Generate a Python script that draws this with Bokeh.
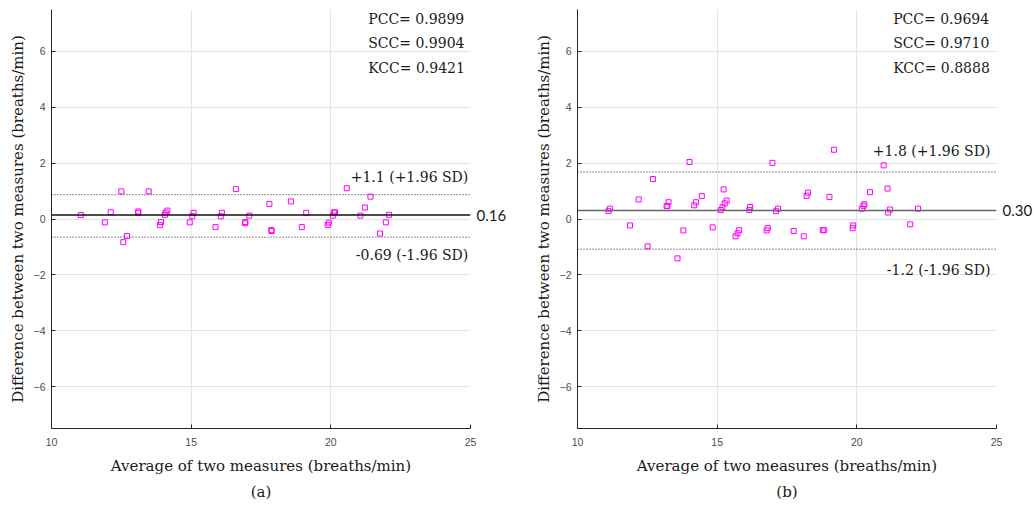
from bokeh.plotting import figure
from bokeh.layouts import row
from bokeh.models import Span, Label, Title, FixedTicker, Range1d, LinearAxis
from bokeh.embed import file_html
from bokeh.resources import INLINE

# ---------------- data ----------------
a_avg = [11.05, 11.91, 12.12, 12.50, 12.57, 12.70, 13.10, 13.11, 13.48, 13.88,
         13.92, 14.06, 14.09, 14.15, 14.95, 15.04, 15.09, 15.87, 16.06, 16.10,
         16.60, 16.93, 16.94, 17.08, 17.80, 17.87, 17.88, 18.57, 18.96, 19.12,
         19.89, 19.93, 20.07, 20.11, 20.15, 20.57, 21.06, 21.22, 21.42, 21.76,
         21.97, 22.08]
a_diff = [0.14, -0.12, 0.24, 0.99, -0.83, -0.61, 0.22, 0.27, 0.99, -0.22,
          -0.11, 0.15, 0.23, 0.30, -0.12, 0.10, 0.22, -0.29, 0.10, 0.22,
          1.07, -0.15, -0.11, 0.12, 0.54, -0.40, -0.43, 0.63, -0.29, 0.22,
          -0.21, -0.13, 0.12, 0.23, 0.24, 1.10, 0.12, 0.41, 0.80, -0.52,
          -0.12, 0.15]

b_avg = [11.11, 11.16, 11.88, 12.19, 12.51, 12.70, 13.19, 13.22, 13.26, 13.58,
         13.79, 14.01, 14.18, 14.24, 14.45, 14.84, 15.13, 15.19, 15.23, 15.27,
         15.34, 15.66, 15.73, 15.79, 16.15, 16.18, 16.77, 16.81, 16.98, 17.11,
         17.18, 17.74, 18.10, 18.20, 18.25, 18.78, 18.83, 19.02, 19.18, 19.85,
         19.87, 20.18, 20.24, 20.27, 20.47, 20.96, 21.10, 21.12, 21.19, 21.91,
         22.19]
b_diff = [0.28, 0.37, -0.23, 0.70, -0.98, 1.43, 0.46, 0.47, 0.60, -1.41,
          -0.41, 2.04, 0.49, 0.60, 0.82, -0.30, 0.32, 0.42, 1.06, 0.56,
          0.66, -0.62, -0.51, -0.40, 0.32, 0.43, -0.41, -0.33, 2.01, 0.28,
          0.37, -0.43, -0.62, 0.83, 0.94, -0.40, -0.40, 0.79, 2.48, -0.33,
          -0.23, 0.37, 0.47, 0.53, 0.96, 1.92, 1.09, 0.23, 0.34, -0.19,
          0.37]

a_lines = [0.14, 0.87, -0.65]      # mean, upper LoA, lower LoA
b_lines = [0.30, 1.68, -1.08]
a_texts = ["0.16", "+1.1 (+1.96 SD)", "-0.69 (-1.96 SD)"]
b_texts = ["0.30", "+1.8 (+1.96 SD)", "-1.2 (-1.96 SD)"]
a_stats = ["PCC= 0.9899", "SCC= 0.9904", "KCC= 0.9421"]
b_stats = ["PCC= 0.9694", "SCC= 0.9710", "KCC= 0.8888"]
panel_names = ["(a)", "(b)"]

x_ticks = [10, 15, 20, 25]
y_ticks = [-6, -4, -2, 0, 2, 4, 6]
x_label = "Average of two measures (breaths/min)"
y_label = "Difference between two measures (breaths/min)"

SERIF = "DejaVu Serif"
SANS = "Liberation Sans"


def panel(avg, diff, lines, texts, stats, name, mean_color, width, bl, br,
          sd_x, sd_off, st_x):
    p = figure(width=width, height=505, output_backend="svg", toolbar_location=None,
               x_range=Range1d(10, 25), y_range=Range1d(-7.5, 7.5),
               min_border_left=bl, min_border_right=br, min_border_top=9,
               min_border_bottom=77)
    p.outline_line_color = None
    p.background_fill_color = "white"
    p.border_fill_color = "white"

    for ax, ticks in ((p.xaxis, x_ticks), (p.yaxis, y_ticks)):
        ax.ticker = FixedTicker(ticks=ticks)
        ax.axis_line_color = "#262626"
        ax.axis_line_width = 1
        ax.major_tick_line_color = "#262626"
        ax.major_tick_in = 4
        ax.major_tick_out = 0
        ax.minor_tick_line_color = None
        ax.major_label_text_font = SANS
        ax.major_label_text_font_size = "10.5px"
        ax.major_label_text_color = "#4d4d4d"
        ax.axis_label_text_font = SERIF
        ax.axis_label_text_font_size = "15px"
        ax.axis_label_text_font_style = "normal"
        ax.axis_label_text_color = "#1a1a1a"
    p.xaxis.major_label_standoff = 9
    p.xaxis.axis_label_standoff = 8
    p.yaxis.major_label_standoff = 6
    p.yaxis.axis_label_standoff = 4
    p.xaxis.axis_label = x_label
    p.yaxis.axis_label = y_label

    p.xgrid.ticker = FixedTicker(ticks=x_ticks)
    p.ygrid.ticker = FixedTicker(ticks=y_ticks)
    for g in (p.xgrid, p.ygrid):
        g.grid_line_color = "#e3e3e3"
        g.grid_line_width = 1

    mean, up, lo = lines
    p.add_layout(Span(location=up, dimension="width", line_color="#222222",
                      line_width=1, line_dash="1 2"))
    p.add_layout(Span(location=lo, dimension="width", line_color="#222222",
                      line_width=1, line_dash="1 2"))
    p.add_layout(Span(location=mean, dimension="width", line_color=mean_color,
                      line_width=1.5))

    p.scatter(avg, diff, marker="square", size=5, fill_color=None,
              line_color="#ff00ff", line_width=1)

    # mean value written just outside the frame, via a bare right axis
    rax = LinearAxis(ticker=FixedTicker(ticks=[mean]),
                     major_label_overrides={mean: texts[0]},
                     axis_line_color=None, major_tick_line_color=None,
                     major_tick_in=0, major_tick_out=0,
                     minor_tick_line_color=None, minor_tick_in=0,
                     minor_tick_out=0, major_label_standoff=6,
                     major_label_text_font="Lato",
                     major_label_text_font_size="15px",
                     major_label_text_color="#1a1a1a")
    p.add_layout(rax, "right")

    p.add_layout(Label(x=sd_x, y=up, y_offset=sd_off, text=texts[1],
                       text_font=SERIF, text_font_size="14px", text_align="right",
                       text_baseline="middle", text_color="#1a1a1a"))
    p.add_layout(Label(x=sd_x, y=lo, y_offset=-sd_off, text=texts[2],
                       text_font=SERIF, text_font_size="14px", text_align="right",
                       text_baseline="middle", text_color="#1a1a1a"))
    for i, s in enumerate(stats):
        p.add_layout(Label(x=st_x, y=7.5, y_offset=-9 - 24.5 * i, text=s,
                           text_font=SERIF, text_font_size="14px",
                           text_baseline="middle", text_color="#1a1a1a"))

    p.add_layout(Title(text=name, align="center", text_font=SERIF,
                       text_font_size="15px", text_font_style="normal",
                       text_color="#1a1a1a", standoff=6), "below")
    return p


pa = panel(a_avg, a_diff, a_lines, a_texts, a_stats, panel_names[0], "#111111",
           518, 51, 48, 24.92, 18, 21.34)
pb = panel(b_avg, b_diff, b_lines, b_texts, b_stats, panel_names[1], "#666666",
           518, 59, 40, 24.78, 21, 21.30)

layout = row(pa, pb, spacing=0)
open("out.html", "w").write(file_html(layout, INLINE))
